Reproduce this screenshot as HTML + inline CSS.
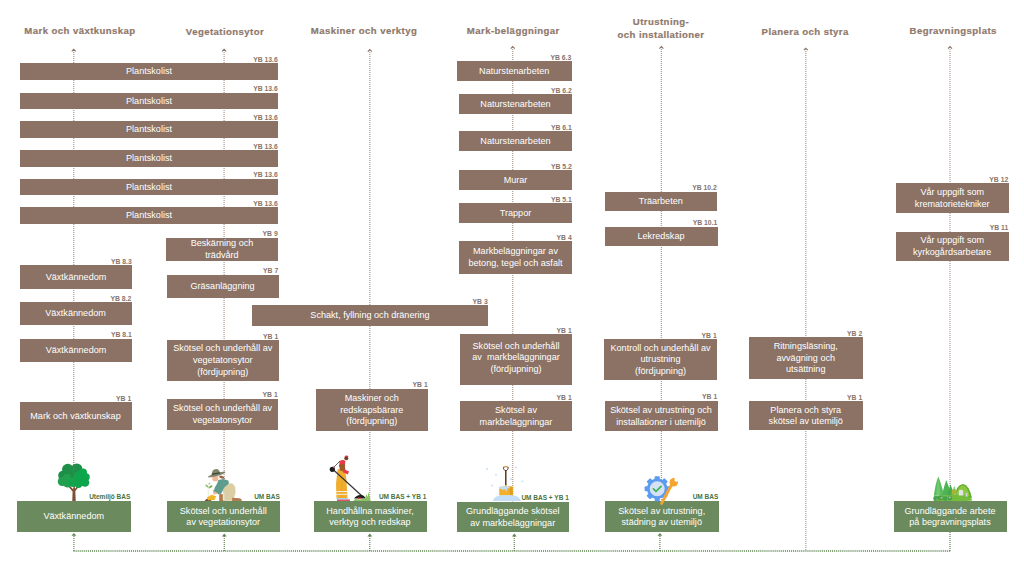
<!DOCTYPE html><html><head><meta charset="utf-8"><style>
html,body{margin:0;padding:0;background:#fff;width:1024px;height:576px;overflow:hidden;position:relative;font-family:"Liberation Sans",sans-serif}
.bx{position:absolute;display:flex;flex-direction:column;justify-content:center;align-items:center;text-align:center;color:#ffffff;font-size:9.1px;line-height:11.7px;white-space:nowrap}.bx div{position:relative;top:0.8px}
.b{background:#8b7264}.g{background:#6b8a5e}
.lb{position:absolute;font-weight:bold;font-size:7px;line-height:8px;white-space:nowrap;text-align:right}
.hd{position:absolute;font-weight:bold;font-size:9.6px;letter-spacing:0.42px;line-height:13.3px;-webkit-text-stroke:0.2px #8f786b;white-space:nowrap;text-align:center;color:#8f786b}
svg{position:absolute;left:0;top:0}
</style></head><body>
<svg width="1024" height="576" style="z-index:0"><line x1="73.75" y1="50" x2="73.75" y2="501" stroke="#8b7264" stroke-width="1.2" stroke-opacity="0.72" stroke-dasharray="1 1"/><polyline points="71.75,51.300000000000004 73.75,49.300000000000004 75.75,51.300000000000004" fill="none" stroke="#8b7264" stroke-width="1.1"/><line x1="224.1" y1="50" x2="224.1" y2="501" stroke="#8b7264" stroke-width="1.2" stroke-opacity="0.72" stroke-dasharray="1 1"/><polyline points="222.1,51.4 224.1,49.4 226.1,51.4" fill="none" stroke="#8b7264" stroke-width="1.1"/><line x1="369.8" y1="50" x2="369.8" y2="501" stroke="#8b7264" stroke-width="1.2" stroke-opacity="0.72" stroke-dasharray="1 1"/><polyline points="367.8,51.6 369.8,49.6 371.8,51.6" fill="none" stroke="#8b7264" stroke-width="1.1"/><line x1="512.75" y1="47" x2="512.75" y2="501.5" stroke="#8b7264" stroke-width="1.2" stroke-opacity="0.72" stroke-dasharray="1 1"/><polyline points="510.75,48.6 512.75,46.6 514.75,48.6" fill="none" stroke="#8b7264" stroke-width="1.1"/><line x1="661.4" y1="47" x2="661.4" y2="501" stroke="#8b7264" stroke-width="1.2" stroke-opacity="0.72" stroke-dasharray="1 1"/><polyline points="659.4,48.6 661.4,46.6 663.4,48.6" fill="none" stroke="#8b7264" stroke-width="1.1"/><line x1="805.8" y1="49" x2="805.8" y2="551" stroke="#8b7264" stroke-width="1.2" stroke-opacity="0.72" stroke-dasharray="1 1"/><polyline points="803.8,50.2 805.8,48.2 807.8,50.2" fill="none" stroke="#8b7264" stroke-width="1.1"/><line x1="950" y1="47" x2="950" y2="501" stroke="#8b7264" stroke-width="1.2" stroke-opacity="0.72" stroke-dasharray="1 1"/><polyline points="948,48.6 950,46.6 952,48.6" fill="none" stroke="#8b7264" stroke-width="1.1"/><line x1="73.5" y1="551" x2="951" y2="551" stroke="#5f8552" stroke-width="1.3" stroke-dasharray="1.1 0.95"/><line x1="73.9" y1="536" x2="73.9" y2="551" stroke="#5f8552" stroke-width="1.2" stroke-dasharray="1 1"/><polygon points="71.5,535.8 73.9,533 76.30000000000001,535.8" fill="#5f8552"/><line x1="224.3" y1="536" x2="224.3" y2="551" stroke="#5f8552" stroke-width="1.2" stroke-dasharray="1 1"/><polygon points="221.9,536.4 224.3,533.6 226.70000000000002,536.4" fill="#5f8552"/><line x1="369.8" y1="536" x2="369.8" y2="551" stroke="#5f8552" stroke-width="1.2" stroke-dasharray="1 1"/><polygon points="367.40000000000003,536.4 369.8,533.6 372.2,536.4" fill="#5f8552"/><line x1="514.3" y1="536" x2="514.3" y2="551" stroke="#5f8552" stroke-width="1.2" stroke-dasharray="1 1"/><polygon points="511.9,536.4 514.3,533.6 516.6999999999999,536.4" fill="#5f8552"/><line x1="659.9" y1="536" x2="659.9" y2="551" stroke="#5f8552" stroke-width="1.2" stroke-dasharray="1 1"/><polygon points="657.5,535.8 659.9,533 662.3,535.8" fill="#5f8552"/><line x1="950" y1="532" x2="950" y2="551" stroke="#5f8552" stroke-width="1.2" stroke-dasharray="1 1"/></svg>
<div class="bx b" style="left:20px;top:63px;width:258px;height:16.5px;z-index:1"><div>Plantskolist</div></div>
<div class="lb" style="right:746.3px;top:55.6px;color:#87746a;font-size:6.8px;z-index:2">YB 13.6</div>
<div class="bx b" style="left:20px;top:92.5px;width:258px;height:16.5px;z-index:1"><div>Plantskolist</div></div>
<div class="lb" style="right:746.3px;top:85.1px;color:#87746a;font-size:6.8px;z-index:2">YB 13.6</div>
<div class="bx b" style="left:20px;top:121px;width:258px;height:16.5px;z-index:1"><div>Plantskolist</div></div>
<div class="lb" style="right:746.3px;top:113.6px;color:#87746a;font-size:6.8px;z-index:2">YB 13.6</div>
<div class="bx b" style="left:20px;top:150px;width:258px;height:16.5px;z-index:1"><div>Plantskolist</div></div>
<div class="lb" style="right:746.3px;top:142.6px;color:#87746a;font-size:6.8px;z-index:2">YB 13.6</div>
<div class="bx b" style="left:20px;top:178.5px;width:258px;height:16.5px;z-index:1"><div>Plantskolist</div></div>
<div class="lb" style="right:746.3px;top:171.1px;color:#87746a;font-size:6.8px;z-index:2">YB 13.6</div>
<div class="bx b" style="left:20px;top:207px;width:258px;height:16.5px;z-index:1"><div>Plantskolist</div></div>
<div class="lb" style="right:746.3px;top:199.6px;color:#87746a;font-size:6.8px;z-index:2">YB 13.6</div>
<div class="bx b" style="left:20px;top:265px;width:112px;height:23.5px;z-index:1"><div>Växtkännedom</div></div>
<div class="lb" style="right:892.3px;top:257.6px;color:#87746a;font-size:6.8px;z-index:2">YB 8.3</div>
<div class="bx b" style="left:19.5px;top:302px;width:112.0px;height:23px;z-index:1"><div>Växtkännedom</div></div>
<div class="lb" style="right:892.8px;top:294.6px;color:#87746a;font-size:6.8px;z-index:2">YB 8.2</div>
<div class="bx b" style="left:20px;top:338.5px;width:112px;height:23.5px;z-index:1"><div>Växtkännedom</div></div>
<div class="lb" style="right:892.3px;top:331.1px;color:#87746a;font-size:6.8px;z-index:2">YB 8.1</div>
<div class="bx b" style="left:19.5px;top:402px;width:112.0px;height:28px;z-index:1"><div>Mark och växtkunskap</div></div>
<div class="lb" style="right:892.8px;top:394.6px;color:#87746a;font-size:6.8px;z-index:2">YB 1</div>
<div class="bx g" style="left:17px;top:501px;width:113.5px;height:30.5px;z-index:1"><div>Växtkännedom</div></div>
<div class="lb" style="right:893.7px;top:493.4px;color:#4a7440;font-size:6.5px;z-index:2">Utemiljö BAS</div>
<div class="bx b" style="left:166px;top:237.5px;width:112px;height:23.5px;z-index:1"><div>Beskärning och</div><div>trädvård</div></div>
<div class="lb" style="right:746.3px;top:230.1px;color:#87746a;font-size:6.8px;z-index:2">YB 9</div>
<div class="bx b" style="left:166.5px;top:274.5px;width:112.0px;height:23.5px;z-index:1"><div>Gräsanläggning</div></div>
<div class="lb" style="right:745.8px;top:267.1px;color:#87746a;font-size:6.8px;z-index:2">YB 7</div>
<div class="bx b" style="left:167px;top:340px;width:111.5px;height:40.5px;z-index:1"><div>Skötsel och underhåll av</div><div>vegetatonsytor</div><div>(fördjupning)</div></div>
<div class="lb" style="right:745.8px;top:332.6px;color:#87746a;font-size:6.8px;z-index:2">YB 1</div>
<div class="bx b" style="left:167px;top:398.5px;width:111px;height:31.5px;z-index:1"><div>Skötsel och underhåll av</div><div>vegetatonsytor</div></div>
<div class="lb" style="right:746.3px;top:391.1px;color:#87746a;font-size:6.8px;z-index:2">YB 1</div>
<div class="bx g" style="left:166.5px;top:501px;width:113.5px;height:31px;z-index:1"><div>Skötsel och underhåll</div><div>av vegetationsytor</div></div>
<div class="lb" style="right:744.2px;top:493.4px;color:#4a7440;font-size:6.5px;z-index:2">UM BAS</div>
<div class="bx b" style="left:252px;top:305px;width:236px;height:20.5px;z-index:1"><div>Schakt, fyllning och dränering</div></div>
<div class="lb" style="right:536.3px;top:297.6px;color:#87746a;font-size:6.8px;z-index:2">YB 3</div>
<div class="bx b" style="left:315.5px;top:388.5px;width:112.5px;height:42.5px;z-index:1"><div>Maskiner och</div><div>redskapsbärare</div><div>(fördjupning)</div></div>
<div class="lb" style="right:596.3px;top:381.1px;color:#87746a;font-size:6.8px;z-index:2">YB 1</div>
<div class="bx g" style="left:313.5px;top:501px;width:113.0px;height:31px;z-index:1"><div>Handhållna maskiner,</div><div>verktyg och redskap</div></div>
<div class="lb" style="right:597.7px;top:493.4px;color:#4a7440;font-size:6.5px;z-index:2">UM BAS + YB 1</div>
<div class="bx b" style="left:457px;top:61px;width:114.5px;height:20px;z-index:1"><div>Naturstenarbeten</div></div>
<div class="lb" style="right:452.8px;top:53.6px;color:#87746a;font-size:6.8px;z-index:2">YB 6.3</div>
<div class="bx b" style="left:459px;top:94px;width:113px;height:20px;z-index:1"><div>Naturstenarbeten</div></div>
<div class="lb" style="right:452.3px;top:86.6px;color:#87746a;font-size:6.8px;z-index:2">YB 6.2</div>
<div class="bx b" style="left:459px;top:131px;width:113px;height:20px;z-index:1"><div>Naturstenarbeten</div></div>
<div class="lb" style="right:452.3px;top:123.6px;color:#87746a;font-size:6.8px;z-index:2">YB 6.1</div>
<div class="bx b" style="left:459px;top:170px;width:113px;height:20px;z-index:1"><div>Murar</div></div>
<div class="lb" style="right:452.3px;top:162.6px;color:#87746a;font-size:6.8px;z-index:2">YB 5.2</div>
<div class="bx b" style="left:459px;top:203px;width:113px;height:20px;z-index:1"><div>Trappor</div></div>
<div class="lb" style="right:452.3px;top:195.6px;color:#87746a;font-size:6.8px;z-index:2">YB 5.1</div>
<div class="bx b" style="left:459px;top:241px;width:113px;height:32.5px;z-index:1"><div>Markbeläggningar av</div><div>betong, tegel och asfalt</div></div>
<div class="lb" style="right:452.3px;top:233.6px;color:#87746a;font-size:6.8px;z-index:2">YB 4</div>
<div class="bx b" style="left:460px;top:334px;width:112px;height:51px;padding-bottom:4px;box-sizing:border-box;z-index:1"><div>Skötsel och underhåll</div><div>av&nbsp; markbeläggningar</div><div>(fördjupning)</div></div>
<div class="lb" style="right:452.3px;top:326.6px;color:#87746a;font-size:6.8px;z-index:2">YB 1</div>
<div class="bx b" style="left:460px;top:401px;width:112px;height:30px;z-index:1"><div>Skötsel av</div><div>markbeläggningar</div></div>
<div class="lb" style="right:452.3px;top:393.6px;color:#87746a;font-size:6.8px;z-index:2">YB 1</div>
<div class="bx g" style="left:456.5px;top:501.5px;width:112.5px;height:30.5px;z-index:1"><div>Grundläggande skötsel</div><div>av markbeläggningar</div></div>
<div class="lb" style="right:455.2px;top:493.9px;color:#4a7440;font-size:6.5px;z-index:2">UM BAS + YB 1</div>
<div class="bx b" style="left:604.5px;top:191.5px;width:112.5px;height:19.5px;z-index:1"><div>Träarbeten</div></div>
<div class="lb" style="right:307.3px;top:184.1px;color:#87746a;font-size:6.8px;z-index:2">YB 10.2</div>
<div class="bx b" style="left:604.5px;top:226.5px;width:113.0px;height:19.0px;z-index:1"><div>Lekredskap</div></div>
<div class="lb" style="right:306.8px;top:219.1px;color:#87746a;font-size:6.8px;z-index:2">YB 10.1</div>
<div class="bx b" style="left:604px;top:339px;width:113px;height:41px;z-index:1"><div>Kontroll och underhåll av</div><div>utrustning</div><div>(fördjupning)</div></div>
<div class="lb" style="right:307.3px;top:331.6px;color:#87746a;font-size:6.8px;z-index:2">YB 1</div>
<div class="bx b" style="left:604.5px;top:400.5px;width:113.0px;height:30.5px;z-index:1"><div>Skötsel av utrustning och</div><div>installationer i utemiljö</div></div>
<div class="lb" style="right:306.8px;top:393.1px;color:#87746a;font-size:6.8px;z-index:2">YB 1</div>
<div class="bx g" style="left:605px;top:501px;width:113.5px;height:31px;z-index:1"><div>Skötsel av utrustning,</div><div>städning av utemiljö</div></div>
<div class="lb" style="right:305.7px;top:493.4px;color:#4a7440;font-size:6.5px;z-index:2">UM BAS</div>
<div class="bx b" style="left:749px;top:337px;width:113.5px;height:41.5px;z-index:1"><div>Ritningsläsning,</div><div>avvägning och</div><div>utsättning</div></div>
<div class="lb" style="right:161.8px;top:329.6px;color:#87746a;font-size:6.8px;z-index:2">YB 2</div>
<div class="bx b" style="left:749px;top:401px;width:113.5px;height:29px;z-index:1"><div>Planera och styra</div><div>skötsel av utemiljö</div></div>
<div class="lb" style="right:161.8px;top:393.6px;color:#87746a;font-size:6.8px;z-index:2">YB 1</div>
<div class="bx b" style="left:896px;top:183px;width:112.5px;height:29.5px;z-index:1"><div>Vår uppgift som</div><div>krematorietekniker</div></div>
<div class="lb" style="right:15.8px;top:175.6px;color:#87746a;font-size:6.8px;z-index:2">YB 12</div>
<div class="bx b" style="left:896px;top:231.5px;width:112.5px;height:29.5px;z-index:1"><div>Vår uppgift som</div><div>kyrkogårdsarbetare</div></div>
<div class="lb" style="right:15.8px;top:224.1px;color:#87746a;font-size:6.8px;z-index:2">YB 11</div>
<div class="bx g" style="left:893.5px;top:501px;width:113.0px;height:31px;z-index:1"><div>Grundläggande arbete</div><div>på begravningsplats</div></div>
<div class="hd" style="left:0px;width:160px;top:23.82px">Mark och växtkunskap</div>
<div class="hd" style="left:145px;width:160px;top:24.92px">Vegetationsytor</div>
<div class="hd" style="left:284px;width:160px;top:23.82px">Maskiner och verktyg</div>
<div class="hd" style="left:433.29999999999995px;width:160px;top:23.82px">Mark-beläggningar</div>
<div class="hd" style="left:581px;width:160px;top:14.82px">Utrustning-<br>och installationer</div>
<div class="hd" style="left:725.2px;width:160px;top:24.82px">Planera och styra</div>
<div class="hd" style="left:873.2px;width:160px;top:24.22px">Begravningsplats</div>
<svg width="1024" height="576" style="z-index:3">
<!-- tree col1 -->
<g>
<path d="M72.3 501 L72.6 491.5 L68.2 486.3 L69.6 485.4 L73.3 489.6 L73.6 485.5 L74.8 485.5 L74.9 489 L78 485.3 L79.2 486.2 L75.3 491 L75.7 501 Z" fill="#7b4a2a"/>
<g fill="#1e8f47">
<circle cx="67.8" cy="469.5" r="5.8"/><circle cx="76.8" cy="469" r="5.6"/><circle cx="63" cy="475.5" r="4.8"/><circle cx="71" cy="474" r="5"/>
</g>
<g fill="#22a04f">
<circle cx="62.3" cy="481.5" r="4.6"/><circle cx="67.5" cy="483.2" r="4.3"/><circle cx="67" cy="478" r="4"/>
</g>
<g fill="#0ea64c">
<circle cx="80.5" cy="477.5" r="7"/><circle cx="86" cy="477" r="3.8"/><circle cx="85" cy="482.5" r="4.3"/><circle cx="78.5" cy="483.8" r="4.2"/><circle cx="73" cy="482.5" r="4.5"/><circle cx="83" cy="472.5" r="4"/>
</g>
<line x1="73.75" y1="462" x2="73.75" y2="501" stroke="#8b7264" stroke-width="1.2" stroke-opacity="0.6" stroke-dasharray="1 1"/>
</g>
<!-- gardener col2 -->
<g>
<path d="M204.6 501 Q205.5 498.5 208.5 498.5 Q211 498.8 211.5 501 Z" fill="#7b4a32"/>
<path d="M208.3 496.5 L208.2 486.5" stroke="#d8e2c8" stroke-width="0.6"/>
<ellipse cx="207" cy="486" rx="1.9" ry="0.9" fill="#8dbf67" transform="rotate(35 207 486)"/>
<ellipse cx="210.6" cy="486.8" rx="2.2" ry="1" fill="#6fae4e" transform="rotate(-35 210.6 486.8)"/>
<ellipse cx="209.4" cy="483.6" rx="1.2" ry="0.8" fill="#9fd07a" transform="rotate(-55 209.4 483.6)"/>
<path d="M225 483.9 L232.3 483.2 L235.2 486.8 L235.6 492.6 L233.7 498.5 L231.6 500.7 L224.3 500.7 L223.5 494.8 L222.8 491.2 Z" fill="#dccea3"/>
<path d="M232.3 497.7 L240 498.2 Q241.8 499 241.8 501 L232 501 Z" fill="#b47c4e"/>
<path d="M219.2 494.1 L223.2 494.1 L223.2 501 L219.2 501 Z" fill="#b07a4a"/>
<rect x="222.8" y="492.6" width="1.6" height="7.6" fill="#e6e6e0"/>
<path d="M212.6 489.7 L217 490.5 L217.5 494.1 L213.5 494.5 Z" fill="#f2b894"/>
<path d="M218.4 479.9 L223.2 478.9 L228.3 480.6 L229 483.2 L224.3 487.5 L221.3 493.4 L218.8 494.5 L216.6 492.6 L213.7 491.2 L214.8 487.5 L217.3 483.2 Z" fill="#5e9d8e"/>
<path d="M206.8 497.5 L211.5 494.8 L216.2 496.2 L214.5 499.9 L208 500.3 Z" fill="#f1b52a"/>
<ellipse cx="215.3" cy="478.4" rx="3.1" ry="2.9" fill="#f2b894"/>
<path d="M219.2 475.5 Q223.5 475.5 225 478.8 L221.5 478.5 L219.5 477.5 Z" fill="#a0603f"/>
<path d="M208.9 476.8 Q215 473.5 224.6 472.3 Q219 475.5 208.9 476.8 Z" fill="#7e8468" stroke="#7e8468" stroke-width="1.4" stroke-linejoin="round"/>
<path d="M211.8 474.5 Q211.8 469 216 468.9 Q219.8 469 219.9 473.2 Z" fill="#7e8468"/>
<path d="M211.8 473.6 L219.9 472.3 L220 473.6 L211.9 475 Z" fill="#3f4a3c"/>
</g>
<!-- worker col3 -->
<g>
<path d="M337.5 469.5 L342 467.5 L345.5 473 L346.5 480 L347.5 498 L336.5 498 L336 484 Z" fill="#f1ad2e"/>
<path d="M341.8 480 L341.8 498" stroke="#e29a1e" stroke-width="0.5"/>
<rect x="336.3" y="491" width="11.2" height="1" fill="#f3efe6"/>
<rect x="336.3" y="493.8" width="11.2" height="1" fill="#f3efe6"/>
<path d="M336.5 498 L347.5 498 L350 499.5 L336.5 499.5 Z" fill="#a8d4ef"/>
<rect x="337" y="499.5" width="13" height="1.5" fill="#d9566a"/>
<path d="M339.5 461 Q343 459.2 345.3 460.8 L345 466 L339.3 466.5 Z" fill="#e83a48"/>
<path d="M338.8 465 L344.5 463.5 L345.5 470.5 L340.5 471 Z" fill="#9a5a2a"/>
<circle cx="346.3" cy="458.2" r="2" fill="#7a3d1f"/>
<path d="M344.3 456.6 Q346.3 454.6 348.5 456.3 L347.5 457.3 Z" fill="#d7303d"/>
<path d="M343.5 469 L349 471.5 L347.8 474.5 L342.6 472 Z" fill="#e83a48"/>
<line x1="332.5" y1="469" x2="362" y2="496" stroke="#343434" stroke-width="1.2"/>
<line x1="333" y1="468" x2="340" y2="461" stroke="#343434" stroke-width="0.8"/>
<circle cx="332.3" cy="469.3" r="2.6" fill="#1e1e1e"/>
<circle cx="333.8" cy="467.3" r="0.9" fill="#d9303d"/>
<path d="M354 498.5 Q357 494.5 361 495 Q364.5 495.3 365.5 498.5 Z" fill="#1e1e1e"/>
<rect x="358" y="497.5" width="3" height="1.2" fill="#d9303d"/>
<path d="M353.5 501 L355 499 L360 499.5 L365 498.5 L366.5 494 L367.5 497 L368.5 492 L369.5 496 L370.5 501 Z" fill="#8cc063"/>
</g>
<!-- shovel col4 -->
<g>
<g fill="#bcdcf6"><circle cx="487" cy="469" r="0.9"/><circle cx="496" cy="474.8" r="0.9"/><circle cx="492" cy="485.4" r="0.9"/><circle cx="511" cy="479" r="0.9"/><circle cx="515.8" cy="467.5" r="0.9"/><circle cx="522.5" cy="481.3" r="0.9"/></g>
<path d="M505.8 470 L505.8 485.5" stroke="#5a3a1e" stroke-width="1.5"/>
<path d="M503.3 467.3 Q505.8 465.8 508.3 467.3 L508 469 L506.3 470.8 L505.3 470.8 L503.6 469 Z" fill="none" stroke="#5a3a1e" stroke-width="0.9"/>
<path d="M503.6 466.9 Q505.8 465.6 508 466.9" fill="none" stroke="#f4b042" stroke-width="0.9"/>
<circle cx="505.8" cy="485.9" r="1" fill="#f4b042"/>
<path d="M499.2 487 Q505.8 485.8 512.8 486.8 L512.8 495.5 L499.2 495.5 Z" fill="#f3b02c"/>
<path d="M509.3 486.6 L512.8 486.8 L512.8 495.5 L510 495.5 Z" fill="#e39c1c"/>
<path d="M499.2 487 Q505.8 485.8 510 486.8 L509.3 488.5 L507.3 488 L506.5 491.5 L504.5 489 L502.3 490 L500.6 488.5 L499.2 489.5 Z" fill="#c4def3"/>
<path d="M493 501 Q493.8 496.8 498.5 496 Q502 494.8 506 495.2 Q510 494.5 514 495.5 Q519.5 496.3 521 501 Z" fill="#c3def5"/>
</g>
<!-- gear col5 -->
<g>
<g transform="translate(657.2 488.75)">
<g fill="#5b9bf0"><circle r="10.2"/><rect x="-2.6" y="-12.6" width="5.2" height="4.5" rx="1" transform="rotate(0)"/><rect x="-2.6" y="-12.6" width="5.2" height="4.5" rx="1" transform="rotate(45)"/><rect x="-2.6" y="-12.6" width="5.2" height="4.5" rx="1" transform="rotate(90)"/><rect x="-2.6" y="-12.6" width="5.2" height="4.5" rx="1" transform="rotate(135)"/><rect x="-2.6" y="-12.6" width="5.2" height="4.5" rx="1" transform="rotate(180)"/><rect x="-2.6" y="-12.6" width="5.2" height="4.5" rx="1" transform="rotate(225)"/><rect x="-2.6" y="-12.6" width="5.2" height="4.5" rx="1" transform="rotate(270)"/><rect x="-2.6" y="-12.6" width="5.2" height="4.5" rx="1" transform="rotate(315)"/></g>
<circle r="7.5" fill="#d6e2f3"/>
<path d="M-3.8 0.2 L-1.2 2.6 L3.9 -2.4" fill="none" stroke="#3db45a" stroke-width="1.7" stroke-linecap="round" stroke-linejoin="round"/>
</g>
<path d="M661.6 503.4 L671.3 485.3" stroke="#f5a52e" stroke-width="2.9" stroke-linecap="round"/>
<circle cx="673.8" cy="482.2" r="4.2" fill="#f5a52e"/>
<path d="M675.2 476.8 L679.8 479.2 L676.8 482 L674.3 480.8 Z" fill="#ffffff"/>
</g>
<!-- cemetery col7 -->
<g>
<path d="M955 497 Q956 485 962.8 484 Q969 484.5 972 498 Z" fill="#5fae2e"/>
<path d="M956.3 496 Q957.5 486 962.8 485.2 Q967.8 486 969.5 496 Z" fill="#8cc83e"/>
<path d="M933.5 501 Q934.5 495.5 942 495.2 L962 494.8 Q970.5 495.5 972.5 500.5 Q965 501.5 950 501 Z" fill="#74bd3c"/>
<path d="M938.3 476.5 Q941 483 944.2 495.3 L933.8 495.8 Q935.5 483 938.3 476.5 Z" fill="#5cbb5f"/>
<path d="M938.3 478 Q939.5 486 940.5 495 L936 495.5 Q937 485 938.3 478 Z" fill="#7fd07a" opacity="0.6"/>
<path d="M946.3 480 Q948.5 486 951.8 495.3 L942 495.5 Q944 486 946.3 480 Z" fill="#4fb356"/>
<path d="M950.5 484.3 L954.2 495 L947.2 495.2 Z" fill="#46a94f"/>
<path d="M954.2 485.8 L957.2 494.5 L951.5 494.5 Z" fill="#7cc888"/>
<rect x="951.8" y="489.5" width="4.6" height="5" fill="#a9b52f"/>
<path d="M958.8 495.5 L958.8 490.5 Q961 488.8 963.2 490.5 L963.2 495.5 Z" fill="#e2e5e8"/>
<rect x="965.6" y="492.8" width="1.9" height="3.8" fill="#cfd4d6"/>
<g fill="#45a34b"><circle cx="935.8" cy="498.2" r="2.5"/><circle cx="940.5" cy="497.8" r="2.6"/><circle cx="945.2" cy="498.6" r="2.4"/><circle cx="950" cy="498.2" r="2.2"/></g>
<g fill="#f3a9c8"><circle cx="941.5" cy="497.8" r="0.9"/><circle cx="949.8" cy="497.3" r="0.9"/><circle cx="937" cy="499" r="0.6"/></g>
</g>
</svg>

</body></html>
